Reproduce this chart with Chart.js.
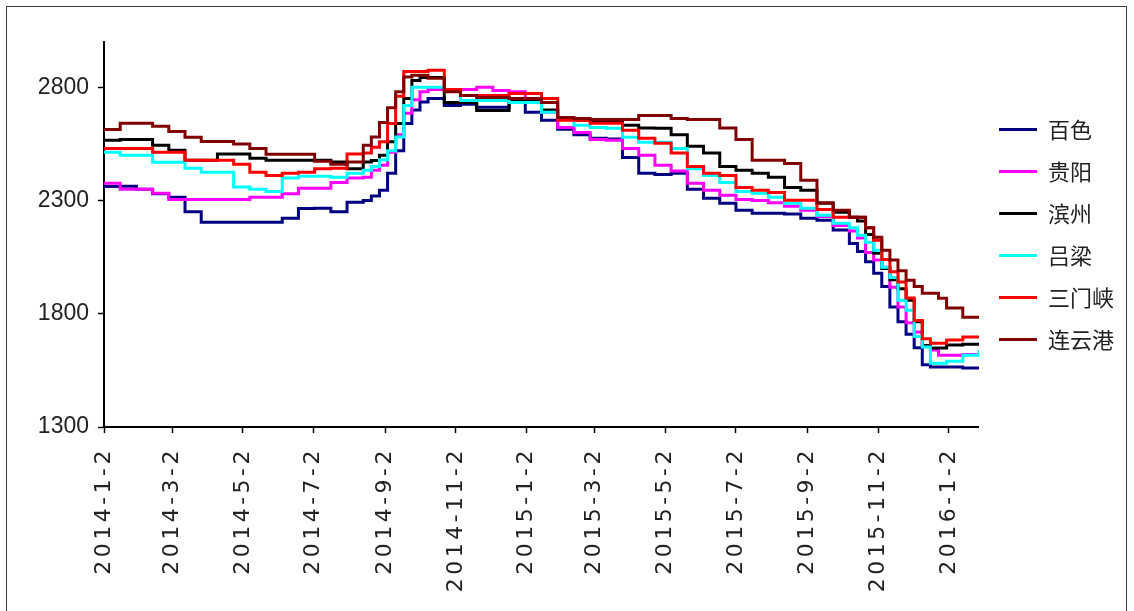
<!DOCTYPE html>
<html><head><meta charset="utf-8">
<script src="https://cdn.jsdelivr.net/npm/chart.js@4"></script>
<style>
html,body{margin:0;padding:0;background:#fff;}
#wrap{position:relative;width:1134px;height:611px;overflow:hidden;background:#fff;}
#frame{position:absolute;left:6px;top:6px;width:1121px;height:700px;border:1.5px solid #3a3a3a;box-sizing:border-box;pointer-events:none;}
canvas{position:absolute;left:0;top:0;}
</style></head><body>
<div id="wrap"><canvas id="c" width="1134" height="611"></canvas><div id="frame"></div></div>
<script>
// sample dates (mostly every 14 days, weekly in the steep stretches)
const dates = ['2014-01-02','2014-01-16','2014-01-30','2014-02-13','2014-02-27','2014-03-13','2014-03-27','2014-04-10','2014-04-24','2014-05-08','2014-05-22','2014-06-05','2014-06-19','2014-07-03','2014-07-17','2014-07-31',
'2014-08-14','2014-08-21','2014-08-28','2014-09-04','2014-09-11','2014-09-18','2014-09-25','2014-10-02','2014-10-09',
'2014-10-23','2014-11-06','2014-11-20','2014-12-04','2014-12-18','2015-01-01','2015-01-15','2015-01-29','2015-02-12','2015-02-26','2015-03-12','2015-03-26','2015-04-09','2015-04-23','2015-05-07','2015-05-21','2015-06-04','2015-06-18','2015-07-02','2015-07-16','2015-07-30','2015-08-13','2015-08-27','2015-09-10','2015-09-24',
'2015-10-08','2015-10-15','2015-10-22','2015-10-29','2015-11-05','2015-11-12','2015-11-19','2015-11-26','2015-12-03','2015-12-10','2015-12-17','2015-12-24','2015-12-31',
'2016-01-14','2016-01-28'];

const tickLabels = ['2014-1-2','2014-3-2','2014-5-2','2014-7-2','2014-9-2','2014-11-2','2015-1-2','2015-3-2','2015-5-2','2015-7-2','2015-9-2','2015-11-2','2016-1-2'];
const yTicks = [1300, 1800, 2300, 2800];

const seriesNames = ['百色','贵阳','滨州','吕梁','三门峡','连云港'];
const seriesColors = ['#000080','#FF00FF','#000000','#00FFFF','#FF0000','#800000'];

const baise = [2362,2363,2350,2330,2314,2250,2204,2204,2204,2204,2204,2222,2265,2266,2250,2292,
2300,2320,2345,2420,2520,2640,2700,2735,2751,
2720,2725,2712,2712,2740,2690,2655,2615,2590,2575,2572,2490,2420,2415,2420,2350,2310,2288,2257,2244,2244,2240,2222,2213,2170,
2110,2075,2030,1979,1920,1830,1765,1710,1650,1575,1565,1565,1565,
1560,1560];
const guiyang = [2376,2350,2350,2332,2305,2305,2305,2305,2305,2314,2314,2330,2354,2354,2380,2400,
2403,2434,2456,2513,2590,2685,2745,2780,2790,
2790,2790,2800,2786,2780,2733,2690,2623,2600,2570,2566,2530,2500,2456,2430,2376,2345,2323,2305,2300,2290,2275,2257,2230,2190,
2165,2134,2070,2037,2005,1917,1830,1760,1720,1660,1640,1617,1617,
1620,1626];
const binzhou = [2566,2570,2570,2544,2522,2478,2478,2506,2506,2487,2478,2478,2478,2478,2470,2440,
2470,2477,2500,2560,2640,2750,2830,2843,2843,
2733,2733,2698,2698,2740,2740,2700,2660,2654,2650,2645,2632,2620,2619,2590,2540,2510,2450,2434,2420,2403,2358,2345,2288,2248,
2226,2210,2150,2067,2000,1950,1910,1860,1765,1660,1649,1649,1662,
1665,1665];
const luliang = [2513,2500,2500,2469,2469,2442,2425,2425,2360,2350,2340,2400,2407,2407,2403,2420,
2434,2450,2480,2520,2580,2720,2800,2800,2800,
2790,2742,2742,2742,2733,2733,2690,2660,2632,2623,2619,2579,2557,2557,2530,2440,2410,2380,2340,2332,2314,2288,2266,2235,2200,
2180,2147,2116,2081,2005,1960,1860,1816,1700,1653,1582,1582,1590,
1617,1640];
const sanmenxia = [2530,2530,2530,2513,2513,2478,2478,2478,2460,2425,2410,2420,2425,2440,2442,2505,
2510,2535,2560,2640,2760,2870,2870,2870,2875,
2790,2764,2764,2764,2773,2773,2751,2654,2654,2641,2641,2610,2575,2553,2510,2450,2420,2410,2358,2345,2336,2301,2301,2260,2226,
2226,2226,2180,2125,2040,1985,1940,1870,1770,1690,1670,1670,1684,
1697,1700];
const lianyungang = [2614,2641,2641,2628,2605,2579,2561,2561,2550,2530,2504,2504,2504,2473,2460,2470,
2544,2580,2645,2710,2780,2845,2853,2853,2840,
2780,2764,2755,2755,2751,2751,2733,2667,2662,2658,2658,2658,2676,2676,2662,2658,2658,2620,2570,2478,2478,2464,2390,2290,2257,
2226,2226,2180,2138,2080,2037,1990,1948,1920,1891,1891,1869,1825,
1785,1781];

const allSeries = [baise, guiyang, binzhou, luliang, sanmenxia, lianyungang];

const DAY = 86400000;
const BASE = Date.UTC(2014, 0, 2);
function dayOf(s){ const [y,m,d] = s.split('-').map(Number); return (Date.UTC(y, m-1, d) - BASE) / DAY; }
const xs = dates.map(dayOf);
const tickDays = tickLabels.map(dayOf);

const datasets = allSeries.map((vals, k) => ({
  label: seriesNames[k],
  data: vals.map((v, i) => ({x: xs[i], y: v})),
  borderColor: seriesColors[k],
  backgroundColor: seriesColors[k],
  borderWidth: 3,
  pointRadius: 0,
  pointHoverRadius: 0,
  stepped: true,
  fill: false,
  order: allSeries.length - k
}));

const xLetterSpacing = {
  id: 'xLetterSpacing',
  beforeDraw(chart) {
    const sc = chart.scales.x;
    if (!sc._lsPatched) {
      const orig = sc.drawLabels;
      sc.drawLabels = function(area) {
        const c = this.ctx; c.save();
        try { c.letterSpacing = '3.5px'; } catch(e) {}
        orig.call(this, area); c.restore();
      };
      sc._lsPatched = true;
    }
  }
};

new Chart(document.getElementById('c'), {
  type: 'line',
  data: { datasets },
  options: {
    responsive: false,
    animation: false,
    devicePixelRatio: 1,
    layout: { padding: { left: 0, top: 42, right: 10, bottom: 0 } },
    plugins: {
      tooltip: { enabled: false },
      legend: {
        position: 'right',
        align: 'center',
        fullSize: false,
        labels: {
          usePointStyle: true,
          pointStyle: 'line',
          pointStyleWidth: 38,
          padding: 20,
          color: '#222',
          font: { family: 'Noto Sans CJK SC', size: 22 },
          sort: (a, b) => a.datasetIndex - b.datasetIndex
        }
      }
    },
    scales: {
      x: {
        type: 'linear',
        min: 0,
        max: xs[xs.length - 1],
        afterBuildTicks: s => { s.ticks = tickDays.map(v => ({ value: v })); },
        afterFit: s => { s.height = 184; },
        ticks: {
          autoSkip: false,
          minRotation: 90,
          maxRotation: 90,
          padding: 14,
          color: '#222',
          font: { family: 'DejaVu Sans', size: 22 },
          callback: (v, i) => tickLabels[i]
        },
        grid: { drawOnChartArea: false, drawTicks: true, tickLength: 6, tickColor: '#000', tickWidth: 1.5 },
        border: { display: true, color: '#000', width: 2 }
      },
      y: {
        type: 'linear',
        min: 1300,
        max: 3000,
        afterBuildTicks: s => { s.ticks = yTicks.map(v => ({ value: v })); },
        afterFit: s => { s.width = 104; },
        ticks: {
          padding: 9,
          color: '#222',
          font: { family: 'Liberation Sans', size: 23 },
          callback: v => String(v)
        },
        grid: { drawOnChartArea: false, drawTicks: true, tickLength: 6, tickColor: '#000', tickWidth: 1.5 },
        border: { display: true, color: '#000', width: 2 }
      }
    }
  },
  plugins: [xLetterSpacing]
});
</script>
</body></html>
